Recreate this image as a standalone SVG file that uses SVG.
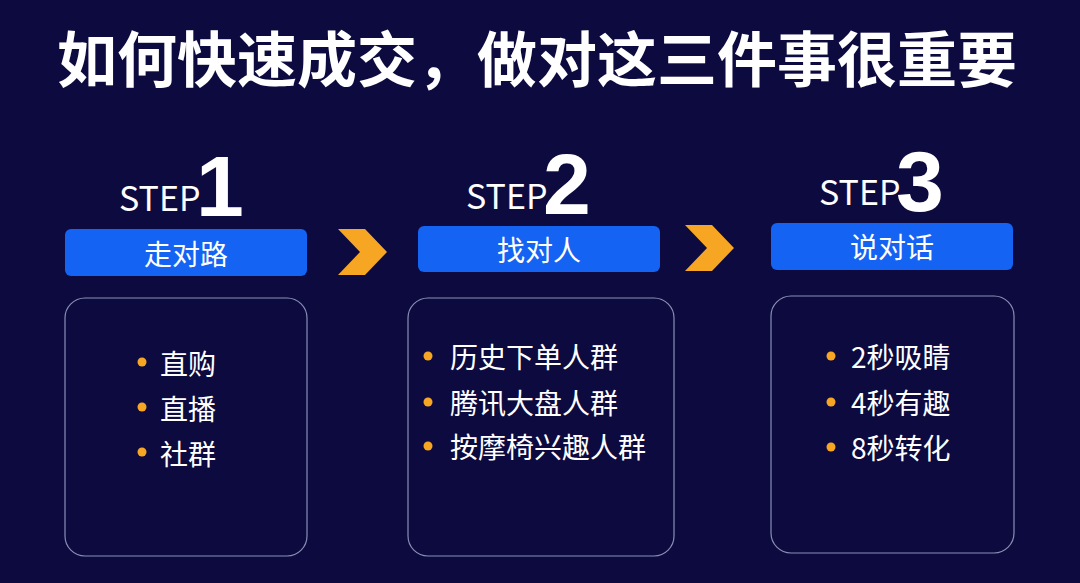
<svg xmlns="http://www.w3.org/2000/svg" width="1080" height="583" viewBox="0 0 1080 583">
<style>
text{font-family:"Noto Sans CJK SC","Noto Sans",sans-serif;fill:#fff}
.t{font-size:60px;font-weight:bold}
.s{font-size:34px}
.n{font-size:86px;font-weight:bold;font-family:"Liberation Sans","Noto Sans",sans-serif}
.bar{fill:#1463f3}
.bl{font-size:28px;text-anchor:middle}
.card{fill:none;stroke:#8a8fb5;stroke-width:1.2}
.it{font-size:28px}
.dot{fill:#f6a623}
.chev{fill:#f6a623}
</style>
<rect width="1080" height="583" fill="#0c0a3f"/>
<text class="t" x="537" y="82" text-anchor="middle">如何快速成交，做对这三件事很重要</text>
<g id="step1">
<text class="s" x="119" y="211">STEP</text><text class="n" x="196" y="216">1</text>
<rect class="bar" x="65" y="229" width="242" height="47" rx="6"/>
<text class="bl" x="186" y="265">走对路</text>
<rect class="card" x="65" y="298" width="242" height="258" rx="20"/>
<circle class="dot" cx="142" cy="362" r="4.5"/><text class="it" x="160" y="375">直购</text>
<circle class="dot" cx="142" cy="407" r="4.5"/><text class="it" x="160" y="420">直播</text>
<circle class="dot" cx="142" cy="452" r="4.5"/><text class="it" x="160" y="465">社群</text>
</g>
<g id="step2">
<text class="s" x="466" y="209">STEP</text><text class="n" x="543" y="214">2</text>
<rect class="bar" x="418" y="226" width="242" height="46" rx="6"/>
<text class="bl" x="539" y="261">找对人</text>
<rect class="card" x="408" y="298" width="266" height="258" rx="20"/>
<circle class="dot" cx="428" cy="356" r="4.5"/><text class="it" x="450" y="368">历史下单人群</text>
<circle class="dot" cx="428" cy="402" r="4.5"/><text class="it" x="450" y="414">腾讯大盘人群</text>
<circle class="dot" cx="428" cy="446" r="4.5"/><text class="it" x="450" y="458">按摩椅兴趣人群</text>
</g>
<g id="step3">
<text class="s" x="819" y="205">STEP</text><text class="n" x="896" y="211">3</text>
<rect class="bar" x="771" y="223" width="242" height="47" rx="6"/>
<text class="bl" x="892" y="258">说对话</text>
<rect class="card" x="771" y="296" width="243" height="257" rx="20"/>
<circle class="dot" cx="831" cy="356" r="4.5"/><text class="it" x="851" y="368">2秒吸睛</text>
<circle class="dot" cx="831" cy="402" r="4.5"/><text class="it" x="851" y="414">4秒有趣</text>
<circle class="dot" cx="831" cy="447" r="4.5"/><text class="it" x="851" y="459">8秒转化</text>
</g>
<g id="connectors">
<polygon class="chev" points="338,229 365,229 387,252 365,275 338,275 360,252"/>
<polygon class="chev" points="685,225 712,225 734,248 712,271 685,271 707,248"/>
</g>
</svg>
